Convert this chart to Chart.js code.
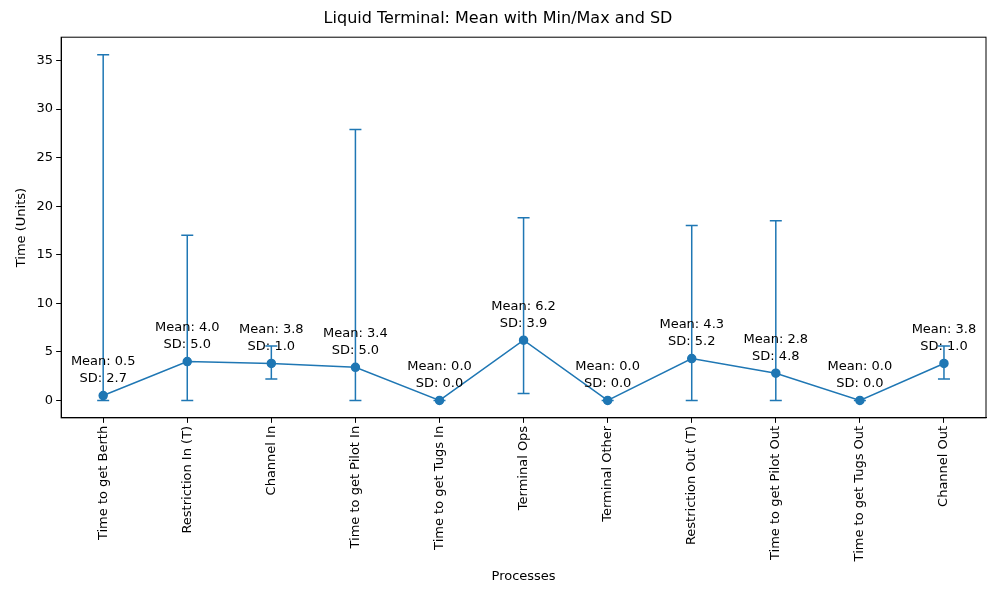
<!DOCTYPE html>
<html>
<head>
<script src="https://cdn.jsdelivr.net/npm/chart.js@4/dist/chart.umd.min.js"></script>
<style>body{margin:0;background:#fff}</style>
</head>
<body>
<canvas id="grafico" width="1000" height="600"></canvas>
<script>
// dados
const processos = ['Time to get Berth', 'Restriction In (T)', 'Channel In', 'Time to get Pilot In',
  'Time to get Tugs In', 'Terminal Ops', 'Terminal Other', 'Restriction Out (T)',
  'Time to get Pilot Out', 'Time to get Tugs Out', 'Channel Out'];
const medias = [0.5, 4.0, 3.8, 3.4, 0.0, 6.2, 0.0, 4.3, 2.8, 0.0, 3.8];
const desvios = [2.7, 5.0, 1.0, 5.0, 0.0, 3.9, 0.0, 5.2, 4.8, 0.0, 1.0];
const minimos = [0, 0, 2.2, 0, 0, 0.7, 0, 0, 0, 0, 2.2];
const maximos = [35.6, 17.0, 5.6, 27.9, 0, 18.8, 0, 18.0, 18.5, 0, 5.6];

const azul = '#1f77b4';
Chart.defaults.font.family = "'DejaVu Sans', sans-serif";
Chart.defaults.color = '#000';

// barras de erro, rótulos e moldura
const extras = {
  id: 'extras',
  afterDatasetsDraw(chart) {
    const ctx = chart.ctx, x = chart.scales.x, y = chart.scales.y, a = chart.chartArea;
    ctx.save();
    ctx.strokeStyle = azul;
    ctx.lineWidth = 1.5;
    processos.forEach((p, i) => {
      const px = x.getPixelForValue(i);
      const y1 = y.getPixelForValue(minimos[i]), y2 = y.getPixelForValue(maximos[i]);
      ctx.beginPath();
      ctx.moveTo(px, y1); ctx.lineTo(px, y2);
      ctx.moveTo(px - 6, y1); ctx.lineTo(px + 6, y1);
      ctx.moveTo(px - 6, y2); ctx.lineTo(px + 6, y2);
      ctx.stroke();
    });
    ctx.fillStyle = '#000';
    ctx.font = "13px 'DejaVu Sans'";
    ctx.textAlign = 'center';
    ctx.textBaseline = 'middle';
    processos.forEach((p, i) => {
      const px = x.getPixelForValue(i), py = y.getPixelForValue(medias[i]);
      ctx.fillText('Mean: ' + medias[i].toFixed(1), px, py - 34);
      ctx.fillText('SD: ' + desvios[i].toFixed(1), px, py - 17);
    });
    ctx.strokeStyle = '#000';
    ctx.lineWidth = 1;
    ctx.strokeRect(a.left, a.top, a.right - a.left, a.bottom - a.top);
    ctx.restore();
  }
};

new Chart(document.getElementById('grafico'), {
  type: 'line',
  data: {
    labels: processos,
    datasets: [{
      data: medias,
      borderColor: azul,
      backgroundColor: azul,
      borderWidth: 1.5,
      pointRadius: 4,
      tension: 0
    }]
  },
  options: {
    responsive: false,
    animation: false,
    layout: { padding: { left: 10, right: 14, top: 5, bottom: 12 } },
    plugins: {
      legend: { display: false },
      tooltip: { enabled: false },
      title: { display: true, text: 'Liquid Terminal: Mean with Min/Max and SD', font: { size: 16, weight: 'normal' }, padding: { top: 4, bottom: 9 } }
    },
    scales: {
      x: {
        offset: true,
        grid: { drawOnChartArea: false, color: '#000', tickLength: 5 },
        border: { color: '#000' },
        ticks: { minRotation: 90, maxRotation: 90, font: { size: 13 } },
        title: { display: true, text: 'Processes', font: { size: 13 } }
      },
      y: {
        min: -1.8, max: 37.4,
        afterBuildTicks(s) { s.ticks = [0, 5, 10, 15, 20, 25, 30, 35].map(v => ({ value: v })); },
        grid: { drawOnChartArea: false, color: '#000', tickLength: 5 },
        border: { color: '#000' },
        ticks: { font: { size: 13 } },
        title: { display: true, text: 'Time (Units)', font: { size: 13 } }
      }
    }
  },
  plugins: [extras]
});
</script>
</body>
</html>
